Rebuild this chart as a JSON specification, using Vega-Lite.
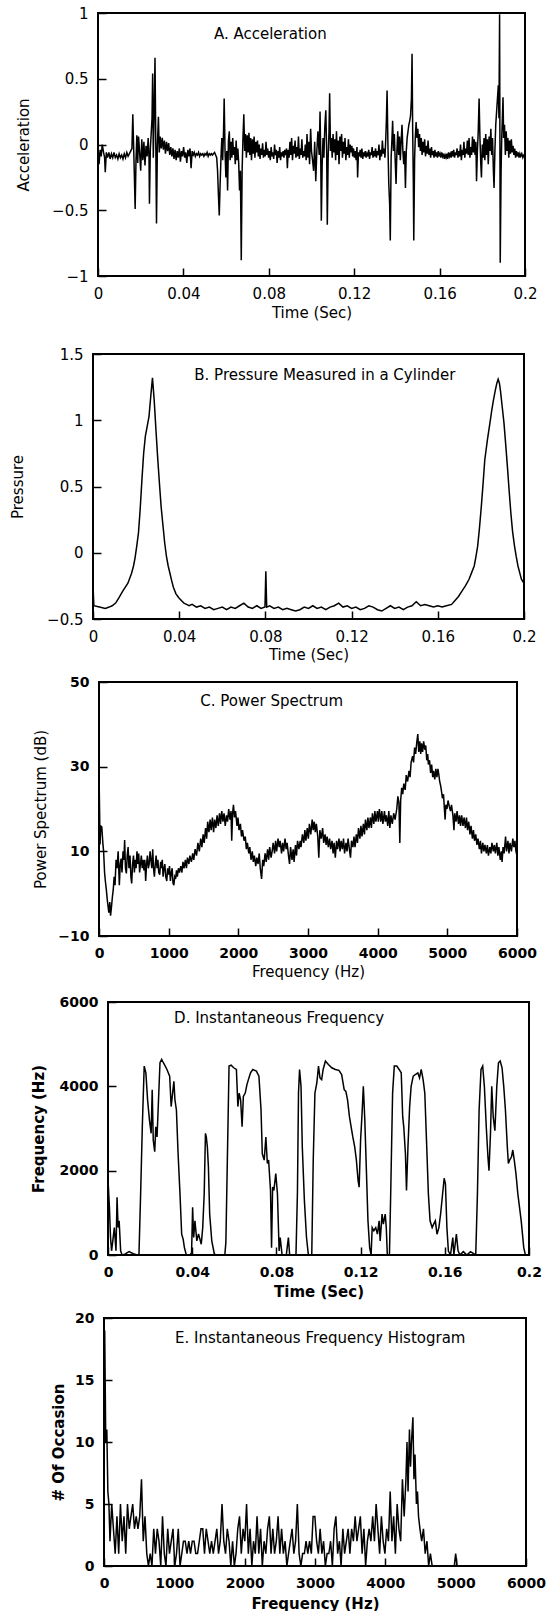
{
"$schema": "https://vega.github.io/schema/vega-lite/v6.json",
"background": "white",
"padding": {"left": 0, "top": 5, "right": 0, "bottom": 0},
"config": {
  "font": "DejaVu Sans",
  "view": {"stroke": "black", "strokeWidth": 2},
  "axis": {"domain": false, "grid": false, "ticks": true, "tickSize": -8, "tickColor": "black", "tickWidth": 1.5, "labelPadding": 18, "labelFont": "DejaVu Sans", "labelFontSize": 15, "labelColor": "black", "titleFont": "DejaVu Sans", "titleFontSize": 15, "titleFontWeight": "normal", "titleColor": "black", "labelFlush": false},
  "line": {"color": "black", "strokeWidth": 1.5},
  "text": {"font": "DejaVu Sans", "fontSize": 15, "color": "black", "align": "left", "baseline": "middle"}
},
"datasets": {
"accel": [
{"t":0,"v":-0.02},{"t":0.0005,"v":-0.15},{"t":0.001,"v":-0.04},{"t":0.0015,"v":-0.09},{"t":0.002,"v":0},{"t":0.0026,"v":-0.06},{"t":0.0031,"v":-0.1},{"t":0.0034,"v":-0.21},{"t":0.0039,"v":-0.06},{"t":0.0045,"v":-0.1},{"t":0.0051,"v":-0.06},{"t":0.0057,"v":-0.11},{"t":0.0063,"v":-0.07},{"t":0.0069,"v":-0.1},{"t":0.0075,"v":-0.06},{"t":0.0081,"v":-0.1},{"t":0.0087,"v":-0.08},{"t":0.0093,"v":-0.11},{"t":0.0099,"v":-0.07},{"t":0.0105,"v":-0.1},{"t":0.0111,"v":-0.08},{"t":0.0117,"v":-0.11},{"t":0.0123,"v":-0.07},{"t":0.0129,"v":-0.1},{"t":0.0135,"v":-0.06},{"t":0.0141,"v":-0.09},{"t":0.0147,"v":-0.07},{"t":0.0153,"v":-0.05},{"t":0.0159,"v":-0.03},{"t":0.0163,"v":0.23},{"t":0.0168,"v":-0.08},{"t":0.0174,"v":-0.49},{"t":0.0178,"v":-0.12},{"t":0.0182,"v":0.07},{"t":0.0186,"v":-0.14},{"t":0.019,"v":0.06},{"t":0.0195,"v":-0.06},{"t":0.02,"v":-0.2},{"t":0.0205,"v":0.04},{"t":0.021,"v":-0.12},{"t":0.0215,"v":0.02},{"t":0.022,"v":-0.16},{"t":0.0225,"v":-0.01},{"t":0.023,"v":-0.09},{"t":0.0235,"v":0.05},{"t":0.0239,"v":-0.1},{"t":0.0241,"v":-0.45},{"t":0.0245,"v":-0.04},{"t":0.0249,"v":0.08},{"t":0.0253,"v":0.2},{"t":0.0256,"v":0.54},{"t":0.0259,"v":-0.1},{"t":0.0263,"v":0.25},{"t":0.0267,"v":0.66},{"t":0.0271,"v":-0.05},{"t":0.0274,"v":-0.6},{"t":0.0278,"v":-0.02},{"t":0.0283,"v":0.21},{"t":0.0287,"v":-0.06},{"t":0.0291,"v":0.06},{"t":0.0296,"v":-0.03},{"t":0.0301,"v":0.05},{"t":0.0306,"v":-0.04},{"t":0.0311,"v":0.03},{"t":0.0316,"v":-0.07},{"t":0.0321,"v":0.02},{"t":0.0326,"v":-0.05},{"t":0.0331,"v":0.01},{"t":0.0336,"v":-0.08},{"t":0.0341,"v":-0.02},{"t":0.0346,"v":-0.09},{"t":0.0351,"v":-0.03},{"t":0.0356,"v":-0.11},{"t":0.0361,"v":-0.04},{"t":0.0366,"v":-0.12},{"t":0.0371,"v":-0.05},{"t":0.0376,"v":-0.1},{"t":0.0381,"v":-0.03},{"t":0.0386,"v":-0.13},{"t":0.0391,"v":-0.05},{"t":0.0396,"v":-0.09},{"t":0.0401,"v":-0.02},{"t":0.0406,"v":-0.1},{"t":0.0411,"v":-0.06},{"t":0.0416,"v":-0.14},{"t":0.0421,"v":-0.04},{"t":0.0426,"v":-0.09},{"t":0.0431,"v":-0.03},{"t":0.0436,"v":-0.18},{"t":0.0441,"v":-0.05},{"t":0.0446,"v":-0.08},{"t":0.0451,"v":-0.06},{"t":0.0456,"v":-0.09},{"t":0.0461,"v":-0.07},{"t":0.0466,"v":-0.08},{"t":0.0471,"v":-0.06},{"t":0.0476,"v":-0.09},{"t":0.0481,"v":-0.07},{"t":0.0486,"v":-0.08},{"t":0.0491,"v":-0.07},{"t":0.0496,"v":-0.09},{"t":0.0501,"v":-0.07},{"t":0.0506,"v":-0.08},{"t":0.0511,"v":-0.06},{"t":0.0516,"v":-0.09},{"t":0.0521,"v":-0.07},{"t":0.0526,"v":-0.08},{"t":0.0531,"v":-0.07},{"t":0.0536,"v":-0.08},{"t":0.0541,"v":-0.07},{"t":0.0546,"v":-0.06},{"t":0.0551,"v":-0.08},{"t":0.0556,"v":-0.1},{"t":0.056,"v":-0.2},{"t":0.0564,"v":-0.38},{"t":0.0568,"v":-0.54},{"t":0.0572,"v":-0.3},{"t":0.0576,"v":-0.1},{"t":0.058,"v":0.05},{"t":0.0584,"v":-0.12},{"t":0.0588,"v":0.1},{"t":0.0591,"v":0.35},{"t":0.0595,"v":-0.05},{"t":0.0599,"v":-0.25},{"t":0.0603,"v":-0.05},{"t":0.0607,"v":-0.35},{"t":0.0611,"v":0.03},{"t":0.0615,"v":0.1},{"t":0.0619,"v":-0.12},{"t":0.0623,"v":0.02},{"t":0.0627,"v":-0.1},{"t":0.0631,"v":0.05},{"t":0.0635,"v":-0.08},{"t":0.0639,"v":-0.02},{"t":0.0643,"v":-0.15},{"t":0.0647,"v":0.03},{"t":0.0651,"v":-0.12},{"t":0.0655,"v":-0.03},{"t":0.0659,"v":-0.14},{"t":0.0663,"v":-0.35},{"t":0.0667,"v":-0.2},{"t":0.0671,"v":-0.88},{"t":0.0675,"v":-0.2},{"t":0.0679,"v":0.05},{"t":0.0683,"v":0.23},{"t":0.0687,"v":-0.05},{"t":0.0691,"v":0.08},{"t":0.0695,"v":-0.1},{"t":0.0699,"v":0.07},{"t":0.0703,"v":-0.06},{"t":0.0707,"v":0.09},{"t":0.0711,"v":-0.08},{"t":0.0715,"v":0.05},{"t":0.0719,"v":-0.12},{"t":0.0723,"v":0.04},{"t":0.0727,"v":-0.07},{"t":0.0731,"v":0.06},{"t":0.0735,"v":-0.1},{"t":0.0739,"v":0.02},{"t":0.0743,"v":-0.06},{"t":0.0747,"v":0.03},{"t":0.0751,"v":-0.09},{"t":0.0755,"v":0},{"t":0.0759,"v":-0.11},{"t":0.0763,"v":-0.03},{"t":0.0767,"v":-0.08},{"t":0.0771,"v":0.01},{"t":0.0775,"v":-0.1},{"t":0.0779,"v":-0.04},{"t":0.0783,"v":-0.09},{"t":0.0787,"v":0.02},{"t":0.0791,"v":-0.08},{"t":0.0795,"v":-0.03},{"t":0.0799,"v":-0.1},{"t":0.0803,"v":-0.05},{"t":0.0807,"v":-0.12},{"t":0.0811,"v":-0.02},{"t":0.0815,"v":-0.09},{"t":0.0819,"v":-0.06},{"t":0.0823,"v":-0.11},{"t":0.0827,"v":0},{"t":0.0831,"v":-0.08},{"t":0.0835,"v":-0.04},{"t":0.0839,"v":-0.14},{"t":0.0843,"v":-0.05},{"t":0.0847,"v":-0.1},{"t":0.0851,"v":-0.02},{"t":0.0855,"v":-0.12},{"t":0.0859,"v":-0.06},{"t":0.0863,"v":-0.09},{"t":0.0867,"v":-0.05},{"t":0.0871,"v":-0.1},{"t":0.0875,"v":-0.04},{"t":0.0879,"v":-0.08},{"t":0.0883,"v":-0.03},{"t":0.0887,"v":-0.18},{"t":0.0891,"v":-0.04},{"t":0.0895,"v":-0.1},{"t":0.0899,"v":0.02},{"t":0.0903,"v":-0.08},{"t":0.0907,"v":0.05},{"t":0.0911,"v":-0.12},{"t":0.0915,"v":-0.01},{"t":0.0919,"v":-0.07},{"t":0.0923,"v":0.03},{"t":0.0927,"v":-0.1},{"t":0.0931,"v":-0.02},{"t":0.0935,"v":-0.09},{"t":0.0939,"v":0.06},{"t":0.0943,"v":-0.11},{"t":0.0947,"v":-0.03},{"t":0.0951,"v":-0.08},{"t":0.0955,"v":0.04},{"t":0.0959,"v":-0.1},{"t":0.0963,"v":-0.05},{"t":0.0967,"v":-0.09},{"t":0.0971,"v":0},{"t":0.0975,"v":-0.12},{"t":0.0979,"v":0.08},{"t":0.0983,"v":-0.1},{"t":0.0987,"v":0.02},{"t":0.0991,"v":-0.15},{"t":0.0996,"v":0.12},{"t":0.1,"v":-0.05},{"t":0.1005,"v":-0.12},{"t":0.101,"v":-0.2},{"t":0.1015,"v":0.02},{"t":0.102,"v":-0.28},{"t":0.1025,"v":-0.05},{"t":0.103,"v":0.1},{"t":0.1036,"v":-0.08},{"t":0.104,"v":0.25},{"t":0.1043,"v":-0.05},{"t":0.1046,"v":-0.58},{"t":0.105,"v":-0.15},{"t":0.1054,"v":0.05},{"t":0.1058,"v":-0.1},{"t":0.1062,"v":0.12},{"t":0.1067,"v":0.26},{"t":0.1071,"v":-0.05},{"t":0.1074,"v":-0.61},{"t":0.1078,"v":-0.1},{"t":0.1082,"v":0.1},{"t":0.1085,"v":0.39},{"t":0.1089,"v":-0.05},{"t":0.1093,"v":0.05},{"t":0.1097,"v":-0.1},{"t":0.1101,"v":0.08},{"t":0.1105,"v":-0.06},{"t":0.1109,"v":0.04},{"t":0.1113,"v":-0.12},{"t":0.1117,"v":0.1},{"t":0.1121,"v":-0.08},{"t":0.1125,"v":0.03},{"t":0.1129,"v":-0.15},{"t":0.1133,"v":0.06},{"t":0.1137,"v":-0.05},{"t":0.1141,"v":0.08},{"t":0.1145,"v":-0.1},{"t":0.1149,"v":0.02},{"t":0.1153,"v":-0.07},{"t":0.1157,"v":0.05},{"t":0.1161,"v":-0.12},{"t":0.1165,"v":-0.02},{"t":0.1169,"v":-0.08},{"t":0.1173,"v":0.04},{"t":0.1177,"v":-0.1},{"t":0.1181,"v":0},{"t":0.1185,"v":-0.06},{"t":0.1189,"v":-0.01},{"t":0.1193,"v":-0.09},{"t":0.1197,"v":-0.03},{"t":0.1201,"v":-0.1},{"t":0.1205,"v":-0.05},{"t":0.1209,"v":-0.12},{"t":0.1213,"v":-0.02},{"t":0.1216,"v":-0.25},{"t":0.122,"v":-0.06},{"t":0.1224,"v":-0.09},{"t":0.1228,"v":-0.04},{"t":0.1232,"v":-0.1},{"t":0.1236,"v":-0.03},{"t":0.124,"v":-0.11},{"t":0.1244,"v":-0.06},{"t":0.1248,"v":-0.09},{"t":0.1252,"v":-0.05},{"t":0.1256,"v":-0.1},{"t":0.126,"v":-0.07},{"t":0.1264,"v":-0.09},{"t":0.1268,"v":-0.04},{"t":0.1272,"v":-0.11},{"t":0.1276,"v":-0.06},{"t":0.128,"v":-0.08},{"t":0.1284,"v":-0.02},{"t":0.1288,"v":-0.1},{"t":0.1292,"v":-0.05},{"t":0.1296,"v":-0.09},{"t":0.13,"v":-0.03},{"t":0.1304,"v":-0.1},{"t":0.1308,"v":-0.05},{"t":0.1312,"v":-0.08},{"t":0.1316,"v":0},{"t":0.132,"v":-0.12},{"t":0.1324,"v":-0.04},{"t":0.1328,"v":-0.09},{"t":0.1332,"v":0.03},{"t":0.1336,"v":-0.07},{"t":0.134,"v":-0.03},{"t":0.1344,"v":-0.1},{"t":0.1348,"v":0.05},{"t":0.1351,"v":0.2},{"t":0.1354,"v":0.41},{"t":0.1358,"v":0},{"t":0.1362,"v":-0.3},{"t":0.1366,"v":-0.45},{"t":0.1369,"v":-0.73},{"t":0.1373,"v":-0.1},{"t":0.1377,"v":0.05},{"t":0.138,"v":0.18},{"t":0.1384,"v":-0.05},{"t":0.1388,"v":0.08},{"t":0.1392,"v":-0.12},{"t":0.1396,"v":-0.3},{"t":0.14,"v":-0.05},{"t":0.1404,"v":0.1},{"t":0.1408,"v":-0.08},{"t":0.1412,"v":0.06},{"t":0.1416,"v":-0.12},{"t":0.142,"v":0.03},{"t":0.1424,"v":0.15},{"t":0.1428,"v":-0.05},{"t":0.1432,"v":-0.15},{"t":0.1436,"v":-0.05},{"t":0.144,"v":-0.33},{"t":0.1444,"v":-0.05},{"t":0.1448,"v":0.05},{"t":0.1452,"v":0.1},{"t":0.1456,"v":0.15},{"t":0.146,"v":0.18},{"t":0.1464,"v":0.22},{"t":0.1468,"v":0.35},{"t":0.1471,"v":0.69},{"t":0.1474,"v":0.1},{"t":0.1477,"v":-0.3},{"t":0.1479,"v":-0.73},{"t":0.1483,"v":-0.1},{"t":0.1486,"v":0.05},{"t":0.149,"v":0.17},{"t":0.1494,"v":0.05},{"t":0.1498,"v":0.12},{"t":0.1502,"v":-0.02},{"t":0.1506,"v":0.08},{"t":0.151,"v":-0.05},{"t":0.1514,"v":0.05},{"t":0.1518,"v":-0.08},{"t":0.1522,"v":0.02},{"t":0.1526,"v":-0.06},{"t":0.153,"v":0.04},{"t":0.1534,"v":-0.09},{"t":0.1538,"v":-0.01},{"t":0.1542,"v":-0.07},{"t":0.1546,"v":0.03},{"t":0.155,"v":-0.08},{"t":0.1554,"v":-0.03},{"t":0.1558,"v":-0.1},{"t":0.1562,"v":-0.02},{"t":0.1566,"v":-0.08},{"t":0.157,"v":-0.05},{"t":0.1574,"v":-0.1},{"t":0.1578,"v":-0.04},{"t":0.1582,"v":-0.09},{"t":0.1586,"v":-0.06},{"t":0.159,"v":-0.1},{"t":0.1594,"v":-0.05},{"t":0.1598,"v":-0.09},{"t":0.1602,"v":-0.07},{"t":0.1606,"v":-0.1},{"t":0.161,"v":-0.06},{"t":0.1614,"v":-0.09},{"t":0.1618,"v":-0.07},{"t":0.1622,"v":-0.11},{"t":0.1626,"v":-0.08},{"t":0.163,"v":-0.1},{"t":0.1634,"v":-0.07},{"t":0.1638,"v":-0.11},{"t":0.1642,"v":-0.06},{"t":0.1646,"v":-0.09},{"t":0.165,"v":-0.07},{"t":0.1654,"v":-0.1},{"t":0.1658,"v":-0.05},{"t":0.1662,"v":-0.09},{"t":0.1666,"v":-0.04},{"t":0.167,"v":-0.1},{"t":0.1674,"v":-0.06},{"t":0.1678,"v":-0.08},{"t":0.1682,"v":-0.03},{"t":0.1686,"v":-0.1},{"t":0.169,"v":-0.05},{"t":0.1694,"v":-0.09},{"t":0.1698,"v":0},{"t":0.1702,"v":-0.12},{"t":0.1706,"v":-0.04},{"t":0.171,"v":-0.08},{"t":0.1714,"v":0.02},{"t":0.1718,"v":-0.1},{"t":0.1722,"v":-0.03},{"t":0.1726,"v":-0.07},{"t":0.173,"v":0.03},{"t":0.1734,"v":-0.08},{"t":0.1738,"v":0.05},{"t":0.1742,"v":-0.1},{"t":0.1746,"v":-0.02},{"t":0.175,"v":-0.08},{"t":0.1754,"v":0.06},{"t":0.1758,"v":-0.06},{"t":0.1762,"v":0.04},{"t":0.1766,"v":-0.08},{"t":0.177,"v":0.02},{"t":0.1773,"v":-0.28},{"t":0.1777,"v":-0.05},{"t":0.1781,"v":0.1},{"t":0.1785,"v":0.35},{"t":0.1789,"v":0.05},{"t":0.1793,"v":-0.15},{"t":0.1796,"v":-0.25},{"t":0.18,"v":0},{"t":0.1804,"v":-0.1},{"t":0.1808,"v":0.05},{"t":0.1812,"v":-0.12},{"t":0.1816,"v":0.08},{"t":0.182,"v":-0.08},{"t":0.1824,"v":0.04},{"t":0.1828,"v":-0.15},{"t":0.1832,"v":0.06},{"t":0.1836,"v":-0.05},{"t":0.184,"v":0.12},{"t":0.1844,"v":-0.08},{"t":0.1848,"v":0.05},{"t":0.1852,"v":-0.2},{"t":0.1855,"v":-0.33},{"t":0.1859,"v":-0.05},{"t":0.1863,"v":0.15},{"t":0.1867,"v":0.25},{"t":0.1871,"v":0.35},{"t":0.1875,"v":0.45},{"t":0.1878,"v":0.2},{"t":0.1881,"v":0.99},{"t":0.1884,"v":-0.9},{"t":0.1888,"v":-0.2},{"t":0.1891,"v":0.05},{"t":0.1894,"v":0.2},{"t":0.1897,"v":0.36},{"t":0.19,"v":0.05},{"t":0.1904,"v":0.15},{"t":0.1908,"v":-0.08},{"t":0.1912,"v":0.1},{"t":0.1916,"v":-0.05},{"t":0.192,"v":0.05},{"t":0.1924,"v":-0.1},{"t":0.1928,"v":0.03},{"t":0.1932,"v":-0.07},{"t":0.1936,"v":0.04},{"t":0.194,"v":-0.06},{"t":0.1944,"v":-0.01},{"t":0.1948,"v":-0.08},{"t":0.1952,"v":-0.03},{"t":0.1956,"v":-0.1},{"t":0.196,"v":-0.05},{"t":0.1964,"v":-0.09},{"t":0.1968,"v":-0.06},{"t":0.1972,"v":-0.1},{"t":0.1976,"v":-0.07},{"t":0.198,"v":-0.09},{"t":0.1985,"v":-0.07},{"t":0.199,"v":-0.1},{"t":0.1995,"v":-0.08},{"t":0.2,"v":-0.09}
],
"press": [
{"t":0,"v":-0.25},{"t":0.0004,"v":-0.4},{"t":0.003,"v":-0.41},{"t":0.0057,"v":-0.42},{"t":0.0075,"v":-0.41},{"t":0.0089,"v":-0.4},{"t":0.0105,"v":-0.38},{"t":0.012,"v":-0.34},{"t":0.0138,"v":-0.29},{"t":0.015,"v":-0.26},{"t":0.0162,"v":-0.23},{"t":0.0179,"v":-0.155},{"t":0.0188,"v":-0.1},{"t":0.0195,"v":-0.04},{"t":0.0203,"v":0.05},{"t":0.0211,"v":0.15},{"t":0.0219,"v":0.33},{"t":0.0227,"v":0.55},{"t":0.0235,"v":0.75},{"t":0.0243,"v":0.88},{"t":0.0251,"v":0.95},{"t":0.026,"v":1.03},{"t":0.0268,"v":1.18},{"t":0.0276,"v":1.32},{"t":0.0284,"v":1.15},{"t":0.0292,"v":0.93},{"t":0.03,"v":0.72},{"t":0.0308,"v":0.53},{"t":0.0316,"v":0.35},{"t":0.0325,"v":0.2},{"t":0.0333,"v":0.07},{"t":0.0341,"v":-0.03},{"t":0.0349,"v":-0.1},{"t":0.0357,"v":-0.155},{"t":0.0365,"v":-0.21},{"t":0.0373,"v":-0.26},{"t":0.0385,"v":-0.31},{"t":0.0398,"v":-0.34},{"t":0.041,"v":-0.36},{"t":0.0422,"v":-0.38},{"t":0.0434,"v":-0.39},{"t":0.0446,"v":-0.4},{"t":0.046,"v":-0.39},{"t":0.048,"v":-0.41},{"t":0.05,"v":-0.4},{"t":0.052,"v":-0.42},{"t":0.054,"v":-0.41},{"t":0.056,"v":-0.43},{"t":0.058,"v":-0.42},{"t":0.06,"v":-0.41},{"t":0.062,"v":-0.43},{"t":0.064,"v":-0.41},{"t":0.066,"v":-0.42},{"t":0.068,"v":-0.4},{"t":0.07,"v":-0.38},{"t":0.072,"v":-0.41},{"t":0.074,"v":-0.42},{"t":0.076,"v":-0.4},{"t":0.078,"v":-0.42},{"t":0.0798,"v":-0.41},{"t":0.0802,"v":-0.14},{"t":0.0806,"v":-0.41},{"t":0.082,"v":-0.4},{"t":0.084,"v":-0.42},{"t":0.086,"v":-0.41},{"t":0.088,"v":-0.43},{"t":0.09,"v":-0.42},{"t":0.092,"v":-0.43},{"t":0.094,"v":-0.44},{"t":0.096,"v":-0.43},{"t":0.098,"v":-0.41},{"t":0.1,"v":-0.42},{"t":0.102,"v":-0.4},{"t":0.104,"v":-0.42},{"t":0.106,"v":-0.41},{"t":0.108,"v":-0.43},{"t":0.11,"v":-0.41},{"t":0.112,"v":-0.4},{"t":0.114,"v":-0.38},{"t":0.116,"v":-0.41},{"t":0.118,"v":-0.4},{"t":0.12,"v":-0.42},{"t":0.122,"v":-0.41},{"t":0.124,"v":-0.43},{"t":0.126,"v":-0.42},{"t":0.128,"v":-0.4},{"t":0.13,"v":-0.41},{"t":0.132,"v":-0.43},{"t":0.134,"v":-0.44},{"t":0.136,"v":-0.42},{"t":0.138,"v":-0.4},{"t":0.14,"v":-0.42},{"t":0.142,"v":-0.41},{"t":0.144,"v":-0.43},{"t":0.146,"v":-0.41},{"t":0.148,"v":-0.4},{"t":0.15,"v":-0.37},{"t":0.152,"v":-0.4},{"t":0.154,"v":-0.39},{"t":0.156,"v":-0.4},{"t":0.158,"v":-0.41},{"t":0.16,"v":-0.4},{"t":0.162,"v":-0.41},{"t":0.164,"v":-0.4},{"t":0.1664,"v":-0.39},{"t":0.168,"v":-0.36},{"t":0.1696,"v":-0.33},{"t":0.1712,"v":-0.29},{"t":0.1728,"v":-0.25},{"t":0.1745,"v":-0.2},{"t":0.1757,"v":-0.15},{"t":0.1769,"v":-0.1},{"t":0.1777,"v":-0.03},{"t":0.1785,"v":0.05},{"t":0.1793,"v":0.18},{"t":0.1802,"v":0.35},{"t":0.181,"v":0.52},{"t":0.1818,"v":0.7},{"t":0.183,"v":0.85},{"t":0.1842,"v":0.98},{"t":0.185,"v":1.07},{"t":0.1858,"v":1.15},{"t":0.1866,"v":1.22},{"t":0.1874,"v":1.28},{"t":0.188,"v":1.31},{"t":0.1886,"v":1.28},{"t":0.1891,"v":1.22},{"t":0.1899,"v":1.1},{"t":0.1907,"v":0.98},{"t":0.1915,"v":0.82},{"t":0.1923,"v":0.65},{"t":0.1931,"v":0.47},{"t":0.1939,"v":0.3},{"t":0.1947,"v":0.16},{"t":0.1956,"v":0.05},{"t":0.1964,"v":-0.03},{"t":0.1972,"v":-0.1},{"t":0.198,"v":-0.15},{"t":0.1988,"v":-0.2},{"t":0.2,"v":-0.23}
],
"spec": [
{"f":0,"v":29.4},{"f":8,"v":20},{"f":15,"v":11.6},{"f":25,"v":16},{"f":40,"v":15.8},{"f":55,"v":12},{"f":66,"v":10},{"f":80,"v":5},{"f":91,"v":3},{"f":105,"v":1},{"f":116,"v":-1},{"f":130,"v":-3},{"f":141,"v":-4.5},{"f":155,"v":-2},{"f":166,"v":-5.2},{"f":180,"v":-3},{"f":192,"v":-0.8},{"f":205,"v":1},{"f":217,"v":4},{"f":230,"v":2},{"f":245,"v":8},{"f":260,"v":6},{"f":275,"v":10},{"f":292,"v":2},{"f":305,"v":7},{"f":318,"v":8.3},{"f":330,"v":5},{"f":345,"v":10},{"f":358,"v":8},{"f":368,"v":12.7},{"f":380,"v":6},{"f":393,"v":4.8},{"f":405,"v":9},{"f":418,"v":11},{"f":430,"v":6},{"f":445,"v":9},{"f":458,"v":4},{"f":469,"v":2.4},{"f":482,"v":7},{"f":495,"v":9},{"f":508,"v":5},{"f":520,"v":8},{"f":533,"v":6},{"f":545,"v":10},{"f":558,"v":7},{"f":570,"v":9.5},{"f":583,"v":5},{"f":595,"v":7},{"f":608,"v":9},{"f":620,"v":6},{"f":633,"v":8},{"f":645,"v":5.5},{"f":658,"v":8},{"f":670,"v":3},{"f":683,"v":7},{"f":695,"v":9},{"f":708,"v":6},{"f":720,"v":7},{"f":733,"v":10},{"f":745,"v":8},{"f":758,"v":6},{"f":771,"v":10.5},{"f":783,"v":6},{"f":795,"v":4},{"f":808,"v":7},{"f":820,"v":9},{"f":833,"v":6},{"f":845,"v":8},{"f":858,"v":5},{"f":872,"v":4.5},{"f":885,"v":7.5},{"f":895,"v":6},{"f":908,"v":8},{"f":920,"v":4},{"f":933,"v":6},{"f":945,"v":7},{"f":958,"v":4},{"f":973,"v":3},{"f":985,"v":6},{"f":1000,"v":4.5},{"f":1012,"v":6.5},{"f":1025,"v":3},{"f":1038,"v":5},{"f":1050,"v":6},{"f":1062,"v":2.5},{"f":1074,"v":2},{"f":1087,"v":4},{"f":1100,"v":3.5},{"f":1112,"v":5.5},{"f":1125,"v":4},{"f":1140,"v":6},{"f":1155,"v":5},{"f":1174,"v":6.5},{"f":1190,"v":5},{"f":1205,"v":7.5},{"f":1220,"v":6},{"f":1240,"v":8},{"f":1255,"v":6},{"f":1270,"v":8.5},{"f":1290,"v":7},{"f":1305,"v":9},{"f":1326,"v":7.5},{"f":1345,"v":9.5},{"f":1360,"v":8},{"f":1380,"v":10.5},{"f":1400,"v":9},{"f":1420,"v":12},{"f":1440,"v":10},{"f":1460,"v":13},{"f":1477,"v":11},{"f":1495,"v":14},{"f":1510,"v":12},{"f":1530,"v":15.5},{"f":1545,"v":13},{"f":1560,"v":17},{"f":1578,"v":14.5},{"f":1595,"v":17.5},{"f":1610,"v":15},{"f":1628,"v":18},{"f":1645,"v":14.5},{"f":1660,"v":17.5},{"f":1678,"v":15.5},{"f":1695,"v":18.5},{"f":1712,"v":16},{"f":1730,"v":19},{"f":1745,"v":16.5},{"f":1762,"v":19.5},{"f":1779,"v":17},{"f":1795,"v":19},{"f":1812,"v":16},{"f":1830,"v":18.5},{"f":1845,"v":17},{"f":1862,"v":20},{"f":1880,"v":17.5},{"f":1895,"v":19.5},{"f":1905,"v":12.5},{"f":1918,"v":19},{"f":1930,"v":21},{"f":1945,"v":18},{"f":1960,"v":19.5},{"f":1981,"v":16},{"f":1995,"v":18},{"f":2010,"v":15},{"f":2030,"v":16.5},{"f":2045,"v":13.5},{"f":2060,"v":15},{"f":2082,"v":12.5},{"f":2100,"v":13.5},{"f":2115,"v":10.5},{"f":2130,"v":12},{"f":2150,"v":9.5},{"f":2165,"v":11},{"f":2182,"v":8},{"f":2200,"v":10},{"f":2215,"v":7.5},{"f":2230,"v":9},{"f":2250,"v":6.5},{"f":2265,"v":8.5},{"f":2283,"v":7},{"f":2300,"v":9.5},{"f":2315,"v":6},{"f":2334,"v":3.5},{"f":2350,"v":8},{"f":2365,"v":6.5},{"f":2384,"v":9.5},{"f":2400,"v":7.5},{"f":2420,"v":10.5},{"f":2435,"v":8},{"f":2450,"v":11},{"f":2470,"v":8.5},{"f":2485,"v":10},{"f":2500,"v":12},{"f":2520,"v":9.5},{"f":2535,"v":12.5},{"f":2550,"v":10},{"f":2570,"v":13},{"f":2586,"v":11},{"f":2600,"v":12.5},{"f":2620,"v":9.5},{"f":2635,"v":12},{"f":2650,"v":10},{"f":2670,"v":13},{"f":2686,"v":10.5},{"f":2700,"v":12},{"f":2720,"v":9},{"f":2735,"v":7},{"f":2750,"v":11},{"f":2770,"v":8},{"f":2787,"v":10.5},{"f":2800,"v":7.5},{"f":2820,"v":11.5},{"f":2835,"v":9},{"f":2850,"v":12.5},{"f":2870,"v":10.5},{"f":2888,"v":12.5},{"f":2900,"v":11},{"f":2920,"v":14},{"f":2940,"v":12},{"f":2955,"v":15},{"f":2970,"v":12.5},{"f":2989,"v":15.5},{"f":3005,"v":13},{"f":3020,"v":16.5},{"f":3040,"v":14},{"f":3060,"v":17.5},{"f":3075,"v":15},{"f":3090,"v":17},{"f":3105,"v":14.5},{"f":3120,"v":16.5},{"f":3140,"v":13.5},{"f":3155,"v":8.5},{"f":3170,"v":15},{"f":3190,"v":13},{"f":3210,"v":15.5},{"f":3225,"v":12},{"f":3245,"v":14},{"f":3260,"v":11.5},{"f":3275,"v":13.5},{"f":3291,"v":11},{"f":3310,"v":13},{"f":3325,"v":10.5},{"f":3345,"v":12.5},{"f":3360,"v":9.5},{"f":3375,"v":12},{"f":3392,"v":8.5},{"f":3410,"v":12.5},{"f":3425,"v":10.5},{"f":3445,"v":13},{"f":3460,"v":10},{"f":3475,"v":12.5},{"f":3493,"v":10.5},{"f":3510,"v":13},{"f":3525,"v":9.5},{"f":3545,"v":12},{"f":3560,"v":10},{"f":3575,"v":13},{"f":3594,"v":10.5},{"f":3610,"v":8.5},{"f":3625,"v":12.5},{"f":3645,"v":11},{"f":3660,"v":13.5},{"f":3675,"v":11},{"f":3694,"v":14},{"f":3710,"v":12},{"f":3725,"v":15.5},{"f":3745,"v":13},{"f":3760,"v":16},{"f":3775,"v":13.5},{"f":3795,"v":16.5},{"f":3810,"v":14},{"f":3825,"v":17.5},{"f":3845,"v":15},{"f":3860,"v":18},{"f":3875,"v":15.5},{"f":3896,"v":18},{"f":3910,"v":15.5},{"f":3925,"v":19},{"f":3945,"v":16.5},{"f":3960,"v":19.5},{"f":3975,"v":17},{"f":3997,"v":19.5},{"f":4010,"v":17},{"f":4025,"v":20},{"f":4045,"v":17},{"f":4060,"v":19.5},{"f":4075,"v":16.5},{"f":4098,"v":19.5},{"f":4110,"v":17},{"f":4125,"v":18.5},{"f":4145,"v":16},{"f":4160,"v":19.5},{"f":4175,"v":15.5},{"f":4190,"v":18.5},{"f":4210,"v":16.5},{"f":4230,"v":19},{"f":4250,"v":17.5},{"f":4274,"v":20},{"f":4290,"v":23},{"f":4305,"v":21.5},{"f":4318,"v":12},{"f":4330,"v":22},{"f":4345,"v":25},{"f":4360,"v":23.5},{"f":4375,"v":26},{"f":4395,"v":24.5},{"f":4410,"v":28},{"f":4430,"v":26.5},{"f":4450,"v":29},{"f":4465,"v":27.5},{"f":4480,"v":31},{"f":4501,"v":32.5},{"f":4515,"v":31},{"f":4530,"v":34.5},{"f":4545,"v":33},{"f":4560,"v":35.5},{"f":4576,"v":37.7},{"f":4590,"v":33.5},{"f":4605,"v":36},{"f":4618,"v":33},{"f":4630,"v":35.5},{"f":4645,"v":33.5},{"f":4660,"v":36},{"f":4677,"v":34},{"f":4690,"v":35},{"f":4705,"v":31.5},{"f":4718,"v":33},{"f":4728,"v":30.5},{"f":4745,"v":31.5},{"f":4760,"v":28.5},{"f":4775,"v":30.5},{"f":4790,"v":27.5},{"f":4803,"v":29},{"f":4820,"v":27},{"f":4835,"v":29.5},{"f":4850,"v":27.5},{"f":4865,"v":29.5},{"f":4879,"v":28},{"f":4890,"v":26.5},{"f":4904,"v":25.5},{"f":4918,"v":24},{"f":4930,"v":22.5},{"f":4945,"v":23.5},{"f":4954,"v":21},{"f":4968,"v":17.5},{"f":4979,"v":21},{"f":4995,"v":20},{"f":5010,"v":22},{"f":5030,"v":20.5},{"f":5045,"v":19.5},{"f":5060,"v":21},{"f":5080,"v":18.5},{"f":5095,"v":15},{"f":5106,"v":19},{"f":5125,"v":17},{"f":5140,"v":19.5},{"f":5160,"v":16.5},{"f":5175,"v":18.5},{"f":5190,"v":16},{"f":5206,"v":18.5},{"f":5225,"v":16},{"f":5240,"v":18},{"f":5260,"v":15.5},{"f":5275,"v":18},{"f":5290,"v":15},{"f":5307,"v":17},{"f":5325,"v":14},{"f":5340,"v":16},{"f":5360,"v":13},{"f":5375,"v":15},{"f":5390,"v":12.5},{"f":5408,"v":14},{"f":5425,"v":11.5},{"f":5440,"v":13},{"f":5460,"v":10.5},{"f":5475,"v":12.5},{"f":5490,"v":9.5},{"f":5509,"v":12},{"f":5525,"v":10},{"f":5540,"v":11.5},{"f":5560,"v":9.5},{"f":5575,"v":11.5},{"f":5590,"v":9},{"f":5610,"v":11},{"f":5625,"v":9.5},{"f":5640,"v":12},{"f":5660,"v":10},{"f":5675,"v":11.5},{"f":5690,"v":9.5},{"f":5710,"v":12},{"f":5725,"v":9},{"f":5740,"v":11},{"f":5760,"v":8},{"f":5775,"v":10},{"f":5786,"v":7.5},{"f":5800,"v":11},{"f":5815,"v":9.5},{"f":5836,"v":13.5},{"f":5850,"v":10},{"f":5870,"v":12.5},{"f":5885,"v":9.5},{"f":5900,"v":12},{"f":5920,"v":10},{"f":5940,"v":13},{"f":5955,"v":11},{"f":5970,"v":12.5},{"f":5985,"v":10},{"f":6000,"v":9}
],
"ifreq": [
{"t":0,"v":1800},{"t":0.0007,"v":1100},{"t":0.0012,"v":414},{"t":0.0017,"v":100},{"t":0.0022,"v":300},{"t":0.003,"v":650},{"t":0.0038,"v":100},{"t":0.0043,"v":1370},{"t":0.0048,"v":650},{"t":0.0053,"v":810},{"t":0.006,"v":100},{"t":0.0067,"v":0},{"t":0.008,"v":20},{"t":0.01,"v":80},{"t":0.012,"v":30},{"t":0.014,"v":0},{"t":0.0147,"v":0},{"t":0.0155,"v":1450},{"t":0.0163,"v":3040},{"t":0.0172,"v":4480},{"t":0.018,"v":4320},{"t":0.0188,"v":3680},{"t":0.0197,"v":3200},{"t":0.0205,"v":2885},{"t":0.021,"v":3920},{"t":0.0215,"v":2725},{"t":0.0222,"v":2450},{"t":0.0227,"v":3040},{"t":0.0233,"v":2800},{"t":0.024,"v":3680},{"t":0.0247,"v":4560},{"t":0.0255,"v":4640},{"t":0.0263,"v":4560},{"t":0.0272,"v":4480},{"t":0.028,"v":4400},{"t":0.0293,"v":4240},{"t":0.03,"v":3520},{"t":0.0307,"v":3840},{"t":0.0313,"v":4120},{"t":0.0318,"v":3680},{"t":0.0325,"v":3440},{"t":0.0333,"v":2400},{"t":0.0342,"v":1450},{"t":0.035,"v":494},{"t":0.0357,"v":375},{"t":0.0363,"v":175},{"t":0.0372,"v":0},{"t":0.0388,"v":0},{"t":0.0397,"v":50},{"t":0.0402,"v":1130},{"t":0.0407,"v":414},{"t":0.0413,"v":810},{"t":0.0422,"v":335},{"t":0.043,"v":500},{"t":0.0443,"v":255},{"t":0.045,"v":650},{"t":0.0457,"v":1450},{"t":0.0463,"v":2885},{"t":0.0467,"v":2800},{"t":0.0472,"v":2565},{"t":0.0477,"v":2090},{"t":0.0483,"v":970},{"t":0.0493,"v":335},{"t":0.0505,"v":30},{"t":0.0513,"v":0},{"t":0.0555,"v":0},{"t":0.056,"v":300},{"t":0.0567,"v":2250},{"t":0.0575,"v":4480},{"t":0.0585,"v":4500},{"t":0.0597,"v":4440},{"t":0.061,"v":4400},{"t":0.0617,"v":3520},{"t":0.0623,"v":3840},{"t":0.063,"v":3680},{"t":0.0637,"v":3040},{"t":0.0643,"v":3760},{"t":0.0652,"v":3840},{"t":0.066,"v":4040},{"t":0.0667,"v":4160},{"t":0.0677,"v":4320},{"t":0.0688,"v":4400},{"t":0.0705,"v":4360},{"t":0.0717,"v":4240},{"t":0.0727,"v":3440},{"t":0.0733,"v":2400},{"t":0.0742,"v":2250},{"t":0.075,"v":2800},{"t":0.0757,"v":2170},{"t":0.0763,"v":2250},{"t":0.0772,"v":1530},{"t":0.0777,"v":175},{"t":0.0782,"v":1610},{"t":0.0788,"v":1530},{"t":0.0797,"v":1930},{"t":0.0805,"v":1450},{"t":0.0813,"v":95},{"t":0.0818,"v":414},{"t":0.0827,"v":0},{"t":0.0847,"v":0},{"t":0.0857,"v":414},{"t":0.0863,"v":0},{"t":0.0893,"v":0},{"t":0.09,"v":1500},{"t":0.0905,"v":3840},{"t":0.091,"v":4400},{"t":0.0917,"v":4000},{"t":0.0923,"v":2565},{"t":0.0933,"v":1290},{"t":0.0943,"v":414},{"t":0.0952,"v":0},{"t":0.0968,"v":0},{"t":0.0975,"v":2250},{"t":0.0983,"v":3840},{"t":0.0992,"v":4080},{"t":0.1,"v":4480},{"t":0.1007,"v":4200},{"t":0.1015,"v":4160},{"t":0.1022,"v":4400},{"t":0.1033,"v":4600},{"t":0.1047,"v":4520},{"t":0.1063,"v":4440},{"t":0.108,"v":4400},{"t":0.1097,"v":4380},{"t":0.111,"v":4280},{"t":0.1122,"v":3920},{"t":0.113,"v":3880},{"t":0.1138,"v":3680},{"t":0.1147,"v":3280},{"t":0.1155,"v":3040},{"t":0.1163,"v":2800},{"t":0.1172,"v":2565},{"t":0.118,"v":2250},{"t":0.1188,"v":1770},{"t":0.1193,"v":1610},{"t":0.12,"v":2725},{"t":0.1207,"v":3360},{"t":0.1213,"v":4000},{"t":0.122,"v":3200},{"t":0.1227,"v":2090},{"t":0.1235,"v":810},{"t":0.1243,"v":175},{"t":0.125,"v":0},{"t":0.1255,"v":650},{"t":0.1263,"v":575},{"t":0.1272,"v":650},{"t":0.128,"v":494},{"t":0.1288,"v":810},{"t":0.1293,"v":335},{"t":0.1302,"v":970},{"t":0.1308,"v":733},{"t":0.1317,"v":970},{"t":0.1322,"v":650},{"t":0.1327,"v":0},{"t":0.1337,"v":0},{"t":0.1343,"v":1450},{"t":0.1352,"v":3840},{"t":0.136,"v":4480},{"t":0.1372,"v":4480},{"t":0.1383,"v":4400},{"t":0.1393,"v":4320},{"t":0.14,"v":3280},{"t":0.1405,"v":3040},{"t":0.1413,"v":2400},{"t":0.1418,"v":1530},{"t":0.1425,"v":2565},{"t":0.1433,"v":3520},{"t":0.144,"v":4000},{"t":0.145,"v":4240},{"t":0.146,"v":4280},{"t":0.1472,"v":4320},{"t":0.148,"v":4200},{"t":0.1488,"v":4400},{"t":0.1497,"v":4160},{"t":0.1505,"v":3840},{"t":0.1513,"v":2725},{"t":0.1522,"v":1450},{"t":0.153,"v":810},{"t":0.154,"v":650},{"t":0.1547,"v":733},{"t":0.1555,"v":810},{"t":0.1563,"v":494},{"t":0.1572,"v":650},{"t":0.158,"v":970},{"t":0.1588,"v":1370},{"t":0.1597,"v":1820},{"t":0.1603,"v":1690},{"t":0.161,"v":650},{"t":0.1617,"v":95},{"t":0.1627,"v":0},{"t":0.1638,"v":414},{"t":0.1643,"v":0},{"t":0.1655,"v":494},{"t":0.1663,"v":100},{"t":0.1672,"v":0},{"t":0.1688,"v":80},{"t":0.1705,"v":0},{"t":0.1722,"v":80},{"t":0.1747,"v":0},{"t":0.1755,"v":1450},{"t":0.1763,"v":3440},{"t":0.1772,"v":4400},{"t":0.178,"v":4480},{"t":0.1788,"v":4000},{"t":0.1797,"v":3040},{"t":0.1805,"v":2320},{"t":0.181,"v":2000},{"t":0.1817,"v":2885},{"t":0.1823,"v":4000},{"t":0.183,"v":3280},{"t":0.1838,"v":2950},{"t":0.1847,"v":4000},{"t":0.1855,"v":4560},{"t":0.1863,"v":4600},{"t":0.1872,"v":4440},{"t":0.188,"v":4000},{"t":0.1888,"v":3440},{"t":0.1897,"v":2565},{"t":0.1902,"v":2170},{"t":0.1908,"v":2250},{"t":0.1917,"v":2330},{"t":0.1923,"v":2490},{"t":0.193,"v":2250},{"t":0.1938,"v":1930},{"t":0.1947,"v":1450},{"t":0.1963,"v":810},{"t":0.1975,"v":175},{"t":0.1983,"v":0},{"t":0.2,"v":0}
],
"hist": [
{"f":0,"n":18},{"f":10,"n":19},{"f":25,"n":10},{"f":40,"n":11},{"f":55,"n":6},{"f":70,"n":5},{"f":85,"n":2},{"f":110,"n":5},{"f":134,"n":3},{"f":159,"n":1},{"f":184,"n":4},{"f":209,"n":1},{"f":234,"n":5},{"f":259,"n":2},{"f":284,"n":4},{"f":309,"n":1},{"f":334,"n":5},{"f":359,"n":3},{"f":383,"n":4},{"f":408,"n":5},{"f":433,"n":3},{"f":458,"n":4},{"f":483,"n":3},{"f":508,"n":4},{"f":533,"n":7},{"f":558,"n":2},{"f":583,"n":4},{"f":608,"n":1},{"f":632,"n":0},{"f":657,"n":1},{"f":682,"n":0},{"f":707,"n":3},{"f":732,"n":1},{"f":757,"n":3},{"f":782,"n":2},{"f":807,"n":0},{"f":832,"n":4},{"f":857,"n":1},{"f":881,"n":0},{"f":906,"n":3},{"f":931,"n":1},{"f":956,"n":2},{"f":981,"n":3},{"f":1006,"n":0},{"f":1031,"n":1},{"f":1056,"n":3},{"f":1081,"n":0},{"f":1106,"n":1},{"f":1130,"n":2},{"f":1155,"n":2},{"f":1180,"n":1},{"f":1205,"n":2},{"f":1230,"n":1},{"f":1255,"n":2},{"f":1280,"n":2},{"f":1305,"n":1},{"f":1330,"n":1},{"f":1355,"n":2},{"f":1379,"n":3},{"f":1404,"n":3},{"f":1429,"n":1},{"f":1454,"n":3},{"f":1479,"n":2},{"f":1504,"n":1},{"f":1529,"n":2},{"f":1554,"n":1},{"f":1579,"n":2},{"f":1604,"n":3},{"f":1628,"n":1},{"f":1653,"n":2},{"f":1678,"n":5},{"f":1703,"n":2},{"f":1728,"n":1},{"f":1753,"n":3},{"f":1778,"n":2},{"f":1803,"n":0},{"f":1828,"n":2},{"f":1853,"n":0},{"f":1877,"n":1},{"f":1902,"n":3},{"f":1927,"n":4},{"f":1952,"n":1},{"f":1977,"n":3},{"f":2002,"n":2},{"f":2027,"n":5},{"f":2052,"n":1},{"f":2077,"n":3},{"f":2102,"n":0},{"f":2126,"n":2},{"f":2151,"n":1},{"f":2176,"n":4},{"f":2201,"n":1},{"f":2226,"n":3},{"f":2251,"n":0},{"f":2276,"n":2},{"f":2301,"n":1},{"f":2326,"n":3},{"f":2351,"n":4},{"f":2375,"n":1},{"f":2400,"n":3},{"f":2425,"n":1},{"f":2450,"n":2},{"f":2475,"n":4},{"f":2500,"n":1},{"f":2525,"n":3},{"f":2550,"n":1},{"f":2575,"n":2},{"f":2600,"n":0},{"f":2624,"n":1},{"f":2649,"n":2},{"f":2674,"n":3},{"f":2699,"n":1},{"f":2724,"n":2},{"f":2749,"n":5},{"f":2774,"n":1},{"f":2799,"n":0},{"f":2824,"n":1},{"f":2849,"n":1},{"f":2873,"n":2},{"f":2898,"n":1},{"f":2923,"n":2},{"f":2948,"n":1},{"f":2973,"n":4},{"f":2998,"n":4},{"f":3023,"n":2},{"f":3048,"n":1},{"f":3073,"n":3},{"f":3098,"n":1},{"f":3122,"n":2},{"f":3147,"n":0},{"f":3172,"n":1},{"f":3197,"n":1},{"f":3222,"n":2},{"f":3247,"n":0},{"f":3272,"n":3},{"f":3297,"n":4},{"f":3322,"n":1},{"f":3347,"n":2},{"f":3371,"n":0},{"f":3396,"n":3},{"f":3421,"n":1},{"f":3446,"n":2},{"f":3471,"n":3},{"f":3496,"n":1},{"f":3521,"n":3},{"f":3546,"n":2},{"f":3571,"n":4},{"f":3596,"n":2},{"f":3620,"n":3},{"f":3645,"n":4},{"f":3670,"n":1},{"f":3695,"n":3},{"f":3720,"n":0},{"f":3745,"n":2},{"f":3770,"n":3},{"f":3795,"n":2},{"f":3820,"n":4},{"f":3845,"n":2},{"f":3869,"n":5},{"f":3894,"n":3},{"f":3919,"n":1},{"f":3944,"n":4},{"f":3969,"n":2},{"f":3994,"n":1},{"f":4019,"n":3},{"f":4044,"n":2},{"f":4069,"n":6},{"f":4094,"n":2},{"f":4118,"n":4},{"f":4143,"n":1},{"f":4168,"n":5},{"f":4193,"n":3},{"f":4218,"n":2},{"f":4243,"n":7},{"f":4268,"n":4},{"f":4293,"n":7},{"f":4308,"n":10},{"f":4323,"n":6},{"f":4343,"n":11},{"f":4358,"n":8},{"f":4372,"n":10},{"f":4392,"n":12},{"f":4407,"n":7},{"f":4422,"n":9},{"f":4442,"n":5},{"f":4457,"n":6},{"f":4472,"n":4},{"f":4492,"n":3},{"f":4517,"n":2},{"f":4542,"n":3},{"f":4567,"n":1},{"f":4592,"n":2},{"f":4616,"n":0},{"f":4641,"n":1},{"f":4666,"n":0},{"f":4980,"n":0},{"f":5000,"n":1},{"f":5020,"n":0},{"f":6000,"n":0}
]
},
"vconcat": [
{"hconcat": [
  {"width": 98, "height": 333, "view": {"stroke": null}, "data": {"values": []}, "mark": "point"},
  {"width": 427, "height": 263, "layer": [
    {"data": {"name": "accel"}, "mark": {"type": "line", "clip": true},
     "encoding": {
       "x": {"field": "t", "type": "quantitative", "scale": {"domain": [0, 0.2], "nice": false}, "axis": {"values": [0, 0.04, 0.08, 0.12, 0.16, 0.2], "format": "~g", "title": "Time (Sec)", "titleY": 29, "titleBaseline": "top"}},
       "y": {"field": "v", "type": "quantitative", "scale": {"domain": [-1, 1], "nice": false, "zero": false}, "axis": {"values": [-1, -0.5, 0, 0.5, 1], "format": "~g", "title": "Acceleration", "titleX": -67}}}},
    {"data": {"values": [{"label": "A. Acceleration"}]}, "mark": {"type": "text"},
     "encoding": {"x": {"datum": 0.0543}, "y": {"datum": 0.84}, "text": {"field": "label"}}}
  ]}
], "spacing": 0, "bounds": "flush"},
{"hconcat": [
  {"width": 93, "height": 320, "view": {"stroke": null}, "data": {"values": []}, "mark": "point"},
  {"width": 431, "height": 265, "layer": [
    {"data": {"name": "press"}, "mark": {"type": "line", "clip": true},
     "encoding": {
       "x": {"field": "t", "type": "quantitative", "scale": {"domain": [0, 0.2], "nice": false}, "axis": {"values": [0, 0.04, 0.08, 0.12, 0.16, 0.2], "format": "~g", "title": "Time (Sec)", "titleY": 28, "titleBaseline": "top"}},
       "y": {"field": "v", "type": "quantitative", "scale": {"domain": [-0.5, 1.5], "nice": false, "zero": false}, "axis": {"values": [-0.5, 0, 0.5, 1, 1.5], "format": "~g", "title": "Pressure", "titleX": -68}}}},
    {"data": {"values": [{"label": "B. Pressure Measured in a Cylinder"}]}, "mark": {"type": "text"},
     "encoding": {"x": {"datum": 0.047}, "y": {"datum": 1.34}, "text": {"field": "label"}}}
  ]}
], "spacing": 0, "bounds": "flush"},
{"hconcat": [
  {"width": 99, "height": 312, "view": {"stroke": null}, "data": {"values": []}, "mark": "point"},
  {"width": 418, "height": 254, "layer": [
    {"data": {"name": "spec"}, "mark": {"type": "line", "clip": true},
     "encoding": {
       "x": {"field": "f", "type": "quantitative", "scale": {"domain": [0, 6000], "nice": false}, "axis": {"values": [0, 1000, 2000, 3000, 4000, 5000, 6000], "format": "d", "title": "Frequency (Hz)", "titleY": 28, "titleBaseline": "top", "labelFontWeight": "bold", "labelFontSize": 14}},
       "y": {"field": "v", "type": "quantitative", "scale": {"domain": [-10, 50], "nice": false, "zero": false}, "axis": {"values": [-10, 10, 30, 50], "format": "d", "title": "Power Spectrum (dB)", "titleX": -51, "labelFontWeight": "bold", "labelFontSize": 14}}}},
    {"data": {"values": [{"label": "C. Power Spectrum"}]}, "mark": {"type": "text"},
     "encoding": {"x": {"datum": 1454}, "y": {"datum": 45.6}, "text": {"field": "label"}}}
  ]}
], "spacing": 0, "bounds": "flush"},
{"hconcat": [
  {"width": 108, "height": 308, "view": {"stroke": null}, "data": {"values": []}, "mark": "point"},
  {"width": 421, "height": 253, "layer": [
    {"data": {"name": "ifreq"}, "mark": {"type": "line", "clip": true},
     "encoding": {
       "x": {"field": "t", "type": "quantitative", "scale": {"domain": [0, 0.2], "nice": false}, "axis": {"values": [0, 0.04, 0.08, 0.12, 0.16, 0.2], "format": "~g", "title": "Time (Sec)", "titleY": 29, "titleBaseline": "top", "titleFontWeight": "bold", "labelFontWeight": "bold", "labelFontSize": 14}},
       "y": {"field": "v", "type": "quantitative", "scale": {"domain": [0, 6000], "nice": false}, "axis": {"values": [0, 2000, 4000, 6000], "format": "d", "title": "Frequency (Hz)", "titleX": -62, "titleFontWeight": "bold", "labelFontWeight": "bold", "labelFontSize": 14}}}},
    {"data": {"values": [{"label": "D. Instantaneous Frequency"}]}, "mark": {"type": "text"},
     "encoding": {"x": {"datum": 0.0314}, "y": {"datum": 5620}, "text": {"field": "label"}}}
  ]}
], "spacing": 0, "bounds": "flush"},
{"hconcat": [
  {"width": 104, "height": 1, "view": {"stroke": null}, "data": {"values": []}, "mark": "point"},
  {"width": 422, "height": 248, "layer": [
    {"data": {"name": "hist"}, "mark": {"type": "line", "clip": true},
     "encoding": {
       "x": {"field": "f", "type": "quantitative", "scale": {"domain": [0, 6000], "nice": false}, "axis": {"values": [0, 1000, 2000, 3000, 4000, 5000, 6000], "format": "d", "title": "Frequency (Hz)", "titleY": 30, "titleBaseline": "top", "titleFontWeight": "bold", "labelFontWeight": "bold", "labelFontSize": 14}},
       "y": {"field": "n", "type": "quantitative", "scale": {"domain": [0, 20], "nice": false}, "axis": {"values": [0, 5, 10, 15, 20], "format": "d", "title": "# Of Occasion", "titleX": -38, "titleFontWeight": "bold", "labelFontWeight": "bold", "labelFontSize": 14}}}},
    {"data": {"values": [{"label": "E. Instantaneous Frequency Histogram"}]}, "mark": {"type": "text"},
     "encoding": {"x": {"datum": 1009}, "y": {"datum": 18.4}, "text": {"field": "label"}}}
  ]}
], "spacing": 0, "bounds": "flush"}
],
"spacing": 0,
"bounds": "full"
}
